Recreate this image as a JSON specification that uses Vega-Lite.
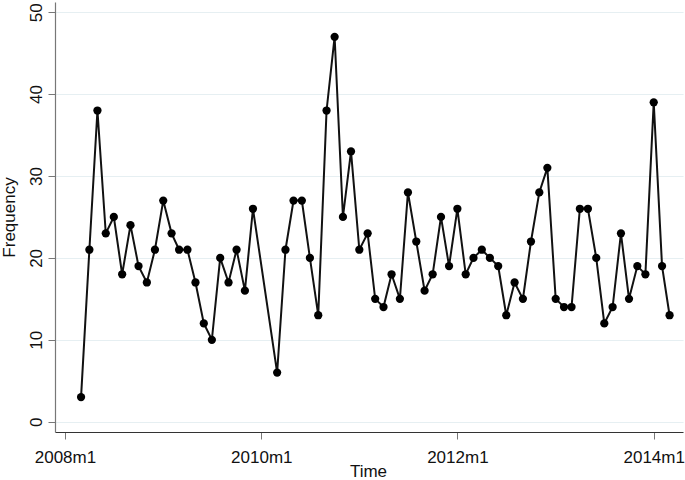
{
  "$schema": "https://vega.github.io/schema/vega-lite/v6.json",
  "autosize": "none",
  "width": 628,
  "height": 430,
  "padding": {"left": 55, "top": 2, "right": 2, "bottom": 48},
  "background": "white",
  "config": {
    "view": {"stroke": null},
    "font": "Liberation Sans"
  },
  "data": {
    "values": [
      {"date": "2008-03-01", "freq": 3},
      {"date": "2008-04-01", "freq": 21},
      {"date": "2008-05-01", "freq": 38},
      {"date": "2008-06-01", "freq": 23},
      {"date": "2008-07-01", "freq": 25},
      {"date": "2008-08-01", "freq": 18},
      {"date": "2008-09-01", "freq": 24},
      {"date": "2008-10-01", "freq": 19},
      {"date": "2008-11-01", "freq": 17},
      {"date": "2008-12-01", "freq": 21},
      {"date": "2009-01-01", "freq": 27},
      {"date": "2009-02-01", "freq": 23},
      {"date": "2009-03-01", "freq": 21},
      {"date": "2009-04-01", "freq": 21},
      {"date": "2009-05-01", "freq": 17},
      {"date": "2009-06-01", "freq": 12},
      {"date": "2009-07-01", "freq": 10},
      {"date": "2009-08-01", "freq": 20},
      {"date": "2009-09-01", "freq": 17},
      {"date": "2009-10-01", "freq": 21},
      {"date": "2009-11-01", "freq": 16},
      {"date": "2009-12-01", "freq": 26},
      {"date": "2010-03-01", "freq": 6},
      {"date": "2010-04-01", "freq": 21},
      {"date": "2010-05-01", "freq": 27},
      {"date": "2010-06-01", "freq": 27},
      {"date": "2010-07-01", "freq": 20},
      {"date": "2010-08-01", "freq": 13},
      {"date": "2010-09-01", "freq": 38},
      {"date": "2010-10-01", "freq": 47},
      {"date": "2010-11-01", "freq": 25},
      {"date": "2010-12-01", "freq": 33},
      {"date": "2011-01-01", "freq": 21},
      {"date": "2011-02-01", "freq": 23},
      {"date": "2011-03-01", "freq": 15},
      {"date": "2011-04-01", "freq": 14},
      {"date": "2011-05-01", "freq": 18},
      {"date": "2011-06-01", "freq": 15},
      {"date": "2011-07-01", "freq": 28},
      {"date": "2011-08-01", "freq": 22},
      {"date": "2011-09-01", "freq": 16},
      {"date": "2011-10-01", "freq": 18},
      {"date": "2011-11-01", "freq": 25},
      {"date": "2011-12-01", "freq": 19},
      {"date": "2012-01-01", "freq": 26},
      {"date": "2012-02-01", "freq": 18},
      {"date": "2012-03-01", "freq": 20},
      {"date": "2012-04-01", "freq": 21},
      {"date": "2012-05-01", "freq": 20},
      {"date": "2012-06-01", "freq": 19},
      {"date": "2012-07-01", "freq": 13},
      {"date": "2012-08-01", "freq": 17},
      {"date": "2012-09-01", "freq": 15},
      {"date": "2012-10-01", "freq": 22},
      {"date": "2012-11-01", "freq": 28},
      {"date": "2012-12-01", "freq": 31},
      {"date": "2013-01-01", "freq": 15},
      {"date": "2013-02-01", "freq": 14},
      {"date": "2013-03-01", "freq": 14},
      {"date": "2013-04-01", "freq": 26},
      {"date": "2013-05-01", "freq": 26},
      {"date": "2013-06-01", "freq": 20},
      {"date": "2013-07-01", "freq": 12},
      {"date": "2013-08-01", "freq": 14},
      {"date": "2013-09-01", "freq": 23},
      {"date": "2013-10-01", "freq": 15},
      {"date": "2013-11-01", "freq": 19},
      {"date": "2013-12-01", "freq": 18},
      {"date": "2014-01-01", "freq": 39},
      {"date": "2014-02-01", "freq": 19},
      {"date": "2014-03-01", "freq": 13}
    ]
  },
  "encoding": {
    "x": {
      "field": "date",
      "type": "temporal",
      "scale": {
        "type": "utc",
        "domain": [
          {"year": 2007, "month": 11, "date": 25, "utc": true},
          {"year": 2014, "month": 4, "date": 20, "utc": true}
        ]
      },
      "axis": {
        "title": "Time",
        "values": [
          {"year": 2008, "month": 1, "date": 1, "utc": true},
          {"year": 2010, "month": 1, "date": 1, "utc": true},
          {"year": 2012, "month": 1, "date": 1, "utc": true},
          {"year": 2014, "month": 1, "date": 1, "utc": true}
        ],
        "labelExpr": "utcFormat(datum.value, '%Y') + 'm' + (utcmonth(datum.value) + 1)",
        "grid": false,
        "domainColor": "#333333",
        "domainWidth": 1.2,
        "tickColor": "#777777",
        "tickSize": 7,
        "tickWidth": 1,
        "labelFontSize": 17,
        "labelColor": "#111111",
        "labelBaseline": "alphabetic",
        "labelPadding": 23,
        "labelFlush": false,
        "labelOverlap": false,
        "titleFontSize": 17,
        "titleFontWeight": "normal",
        "titleColor": "#111111",
        "titleX": 313,
        "titleY": 44,
        "titleBaseline": "alphabetic",
        "titleAlign": "center"
      }
    },
    "y": {
      "field": "freq",
      "type": "quantitative",
      "scale": {"domain": [-1.26, 51.25], "nice": false, "zero": false},
      "axis": {
        "title": "Frequency",
        "values": [0, 10, 20, 30, 40, 50],
        "grid": true,
        "gridColor": "#e6eff2",
        "gridWidth": 1.2,
        "domainColor": "#777777",
        "domainWidth": 1.2,
        "tickColor": "#777777",
        "tickSize": 7,
        "tickWidth": 1,
        "labelAngle": 270,
        "labelAlign": "center",
        "labelBaseline": "alphabetic",
        "labelPadding": 7,
        "labelFontSize": 17,
        "labelColor": "#111111",
        "titleFontSize": 17,
        "titleFontWeight": "normal",
        "titleColor": "#111111",
        "titleAngle": 270,
        "titleX": -41,
        "titleY": 215,
        "titleBaseline": "alphabetic",
        "titleAlign": "center"
      }
    }
  },
  "layer": [
    {
      "mark": {"type": "line", "color": "#111111", "strokeWidth": 2}
    },
    {
      "mark": {"type": "point", "filled": true, "shape": "circle", "color": "#000000", "opacity": 1, "size": 68}
    }
  ]
}
